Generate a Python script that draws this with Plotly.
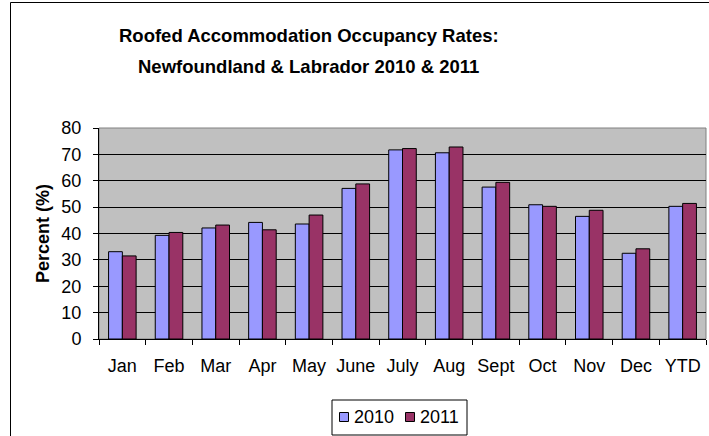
import plotly.graph_objects as go

categories = ["Jan", "Feb", "Mar", "Apr", "May", "June", "July", "Aug", "Sept", "Oct", "Nov", "Dec", "YTD"]
values_2010 = [33.1, 39.3, 42.1, 44.2, 43.6, 57.1, 71.7, 70.6, 57.6, 50.9, 46.5, 32.5, 50.3]
values_2011 = [31.5, 40.4, 43.2, 41.4, 47.0, 58.8, 72.2, 72.8, 59.4, 50.3, 48.8, 34.2, 51.4]
series_names = ["2010", "2011"]
series_colors = ["#9999FF", "#993366"]
y_ticks = [0, 10, 20, 30, 40, 50, 60, 70, 80]
title_lines = ["Roofed Accommodation Occupancy Rates:", "Newfoundland & Labrador 2010 & 2011"]

FONT = "Liberation Sans, Arial, sans-serif"

fig = go.Figure()
for name, vals, col in zip(series_names, [values_2010, values_2011], series_colors):
    fig.add_trace(go.Bar(x=categories, y=vals, name=name, showlegend=False,
                         marker=dict(color=col, line=dict(color="black", width=1))))

W, H = 709, 436
L, R, T, B = 99, 3, 128, 97
pw, ph = W - L - R, H - T - B

def px_x(x):
    return (x - L) / pw

def px_y(y):
    return (H - B - y) / ph

annotations = []
for i, line in enumerate(title_lines):
    annotations.append(dict(text="<b>" + line + "</b>", xref="paper", yref="paper",
                            x=px_x(308.5), y=px_y(36 + 30 * i), xanchor="center", yanchor="middle",
                            showarrow=False, font=dict(family=FONT, size=18.5, color="black")))

shapes = [
    # outer chart frame (left and top edges; the rest lies outside the picture)
    dict(type="line", xref="paper", yref="paper", x0=px_x(10.5), y0=px_y(436), x1=px_x(10.5), y1=px_y(2.5),
         line=dict(color="black", width=1), layer="below"),
    dict(type="line", xref="paper", yref="paper", x0=px_x(10.5), y0=px_y(2.5), x1=px_x(709), y1=px_y(2.5),
         line=dict(color="black", width=1), layer="below"),
    # plot area border
    dict(type="rect", xref="paper", yref="paper", x0=0, y0=0, x1=1, y1=1,
         line=dict(color="#808080", width=1), layer="below"),
    # legend box
    dict(type="rect", xref="paper", yref="paper", x0=px_x(332), y0=px_y(435), x1=px_x(467), y1=px_y(400),
         line=dict(color="black", width=1), fillcolor="white", layer="above"),
]

# legend entries: symbol squares + labels
legend_items = [(339.5, 352), (405.5, 418)]
for (sx, tx), name, col in zip(legend_items, series_names, series_colors):
    shapes.append(dict(type="rect", xref="paper", yref="paper",
                       x0=px_x(sx), y0=px_y(421.5), x1=px_x(sx + 9), y1=px_y(412.5),
                       line=dict(color="black", width=1), fillcolor=col, layer="above"))
    annotations.append(dict(text=name, xref="paper", yref="paper", x=px_x(tx), y=px_y(417),
                            xanchor="left", yanchor="middle", showarrow=False,
                            font=dict(family=FONT, size=18, color="black")))

fig.update_layout(
    width=W, height=H,
    margin=dict(l=L, r=R, t=T, b=B, autoexpand=False),
    paper_bgcolor="white",
    plot_bgcolor="#C0C0C0",
    barmode="group",
    bargap=0.41,
    bargroupgap=0,
    font=dict(family=FONT, size=18, color="black"),
    annotations=annotations,
    shapes=shapes,
    showlegend=False,
)

fig.update_xaxes(
    type="category",
    showline=True, linecolor="black", linewidth=1,
    ticks="outside", tickson="boundaries", ticklen=5, tickcolor="black",
    showgrid=False,
    tickangle=0,
    automargin=False,
    ticklabelstandoff=10,
    tickfont=dict(family=FONT, size=18, color="black"),
)
fig.update_yaxes(
    range=[0, 80], tickvals=y_ticks,
    showline=True, linecolor="black", linewidth=1,
    ticks="outside", ticklen=5, tickcolor="black",
    showgrid=True, gridcolor="black", gridwidth=1,
    zeroline=False,
    automargin=False,
    ticklabelstandoff=8,
    tickfont=dict(family=FONT, size=18, color="black"),
    title=dict(text="<b>Percent (%)</b>", font=dict(family=FONT, size=18, color="black"), standoff=7),
)

fig.write_html(
    "out.html",
    config={"displayModeBar": False},
    post_script="document.body.style.margin='0';document.body.style.overflow='hidden';document.documentElement.style.overflow='hidden';",
)
